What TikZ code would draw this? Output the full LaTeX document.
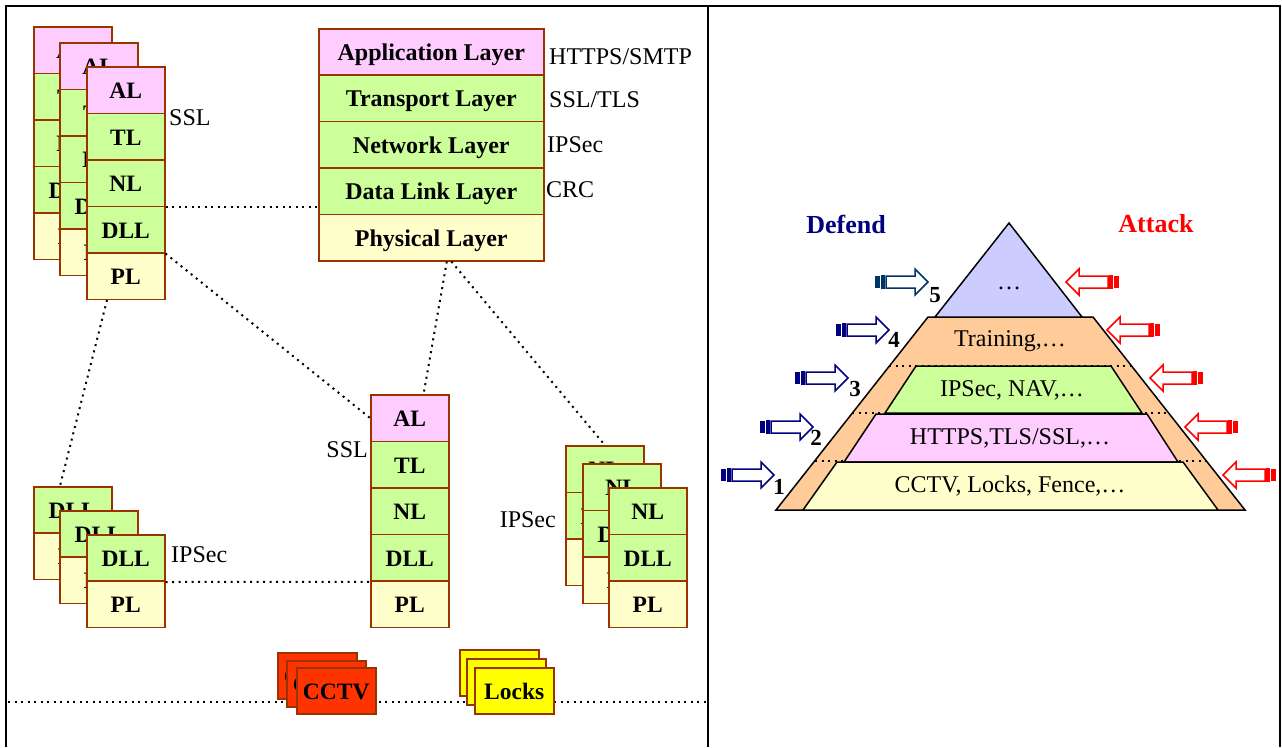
\documentclass[tikz,border=0pt]{standalone}
\usepackage{fontspec}
\setmainfont{Liberation Serif}
\usetikzlibrary{positioning}

\definecolor{layerpink}{HTML}{FFCCFF}
\definecolor{layergreen}{HTML}{CCFF99}
\definecolor{layeryellow}{HTML}{FFFFCC}
\definecolor{cellbrown}{HTML}{993300}
\definecolor{cctvred}{HTML}{FF3300}
\definecolor{lockyellow}{HTML}{FFFF00}
\definecolor{pyrblue}{HTML}{CCCCFF}
\definecolor{pyrorange}{HTML}{FFCC99}
\definecolor{defnavy}{HTML}{000080}
\definecolor{arrowteal}{HTML}{003366}
\definecolor{attackred}{HTML}{FF0000}

\begin{document}
\begin{tikzpicture}[x=1pt,y=-1pt, % one unit = one pixel, y pointing down
  cell/.style={draw=cellbrown, line width=1.5pt, minimum width=78pt, minimum height=46.5pt,
    inner sep=0pt, anchor=north west, text height=17pt, text depth=0pt,
    font=\bfseries\fontsize{23.5}{26}\selectfont},
  bigcell/.style={cell, minimum width=225pt, minimum height=46.4pt, font=\bfseries\fontsize{24}{28}\selectfont},
  lbl/.style={inner sep=0pt, font=\fontsize{24}{28}\selectfont},
  num/.style={inner sep=0pt, font=\bfseries\fontsize{23}{26}\selectfont},
  link/.style={line width=2pt, dash pattern=on 2pt off 4.5pt},
  band/.style={draw=black, line width=1.5pt},
  frame/.style={line width=2pt}]
\useasboundingbox (0,0) rectangle (1282,747);

% frames
\draw[frame] (6,747) -- (6,6) -- (1280,6) -- (1280,747);
\draw[frame] (708,6) -- (708,747);

% top left hosts, back to front
\foreach \s/\x/\y in {ta/33/26, tb/59/42, t/86/66}
  \foreach \n/\c [count=\i from 0] in {AL/layerpink, TL/layergreen, NL/layergreen, DLL/layergreen, PL/layeryellow}
    \node[cell, fill=\c] (\s\n) at (\x,\y+\i*46.5) {\n};

% full stack
\foreach \n/\t/\c [count=\i from 0] in {App/Application Layer/layerpink, Tra/Transport Layer/layergreen,
    Net/Network Layer/layergreen, Dat/Data Link Layer/layergreen, Phy/Physical Layer/layeryellow}
  \node[bigcell, fill=\c] (b\n) at (318,28+\i*46.4) {\t};

% middle host
\foreach \n/\c [count=\i from 0] in {AL/layerpink, TL/layergreen, NL/layergreen, DLL/layergreen, PL/layeryellow}
  \node[cell, fill=\c] (m\n) at (370,394+\i*46.6) {\n};

% bottom left bridges
\foreach \s/\x/\y in {la/33/486, lb/59/510, l/86/534}
  \foreach \n/\c [count=\i from 0] in {DLL/layergreen, PL/layeryellow}
    \node[cell, fill=\c] (\s\n) at (\x,\y+\i*46.3) {\n};

% right routers
\foreach \s/\x/\y in {ra/565/445, rb/582/463, r/608/487}
  \foreach \n/\c [count=\i from 0] in {NL/layergreen, DLL/layergreen, PL/layeryellow}
    \node[cell, fill=\c] (\s\n) at (\x,\y+\i*46.5) {\n};

% labels
\node[lbl, anchor=west] (sslT) at (169,118) {SSL};
\node[lbl, anchor=west] (proApp) at (549,57) {HTTPS/SMTP};
\node[lbl, anchor=west] (proTra) at (549,100) {SSL/TLS};
\node[lbl, anchor=west] (proNet) at (547,145) {IPSec};
\node[lbl, anchor=west] (proDat) at (546,190) {CRC};
\node[lbl, anchor=east] (sslM) at (368,450) {SSL};
\node[lbl, anchor=west] (ipsL) at (171,555) {IPSec};
\node[lbl, anchor=east] (ipsR) at (556,520) {IPSec};

% dotted links
\draw[link] (tNL.south east) -- (tNL.south east -| bDat.west);
\draw[link] (tDLL.south east) -- (mAL.west);
\draw[link] (bPhy.-57) -- (mAL.60);
\draw[link] (bPhy.-50) -- (raNL.north);
\draw[link] (tPL.232) -- (laDLL.118);
\draw[link] (lDLL.south east) -- (mDLL.south west);

% physical line, behind the boxes
\coordinate (gl) at (8,702);
\coordinate (gr) at (708,702);
\draw[link] (gl) -- (gr);
\foreach \s/\x/\y in {ca/277/652, cb/286/660, c/296/667}
  \node[cell, fill=cctvred, minimum width=79pt, minimum height=46pt] (\s) at (\x,\y) {CCTV};
\foreach \s/\x/\y in {ka/459/649, kb/466/658, k/474/667}
  \node[cell, fill=lockyellow, minimum width=79pt, minimum height=46pt] (\s) at (\x,\y) {Locks};

% pyramid
\filldraw[fill=pyrorange, band] (776,510) -- (928,317) -- (1093,317) -- (1245,510) -- cycle;
\filldraw[fill=pyrblue, band] (935,317) -- (1009,223) -- (1082,317) -- cycle;
\foreach \y/\a/\b in {366/889/1132, 413/852/1169, 461/815/1206}
  \draw[link, line width=1.5pt] (\a,\y) -- (\b,\y);
\filldraw[fill=layergreen, band] (885,413) -- (916,366) -- (1111,366) -- (1142,413) -- cycle;
\filldraw[fill=layerpink, band] (844,462) -- (876,414) -- (1147,414) -- (1178,462) -- cycle;
\filldraw[fill=layeryellow, band] (803,510) -- (837,462) -- (1183,462) -- (1218,510) -- cycle;

\node[lbl] (pyr5) at (1009,288) {…};
\node[lbl] (pyr4) at (1010,341) {Training,…};
\node[lbl] (pyr3) at (1012,390) {IPSec, NAV,…};
\node[lbl] (pyr2) at (1010,438) {HTTPS,TLS/SSL,…};
\node[lbl] (pyr1) at (1010,486) {CCTV, Locks, Fence,…};

\node[num, text=defnavy, font=\bfseries\fontsize{26}{30}\selectfont] (defend) at (846,224) {Defend};
\node[num, text=attackred, font=\bfseries\fontsize{26}{30}\selectfont] (attack) at (1156,224) {Attack};

% defend arrows
\foreach \x/\y/\c in {875/282/arrowteal, 836/330/defnavy, 795/378/defnavy, 760/427/defnavy, 721/475/defnavy} {
  \fill[\c] (\x,\y-6) rectangle +(5,12); % thick stripe
  \draw[\c, line width=1.2pt] (\x+7,\y-6) rectangle +(2,12); % thin stripe
  \draw[\c, line width=1.5pt, fill=white] (\x+11,\y-6) -- (\x+40,\y-6) -- (\x+40,\y-13) -- (\x+53,\y)
    -- (\x+40,\y+13) -- (\x+40,\y+6) -- (\x+11,\y+6) -- cycle;
}
% attack arrows
\foreach \x/\y in {1066/282, 1107/330, 1150/378, 1185/427, 1223/475} {
  \fill[attackred] (\x+48,\y-6) rectangle +(5,12);
  \draw[attackred, line width=1.2pt] (\x+44,\y-6) rectangle +(2,12);
  \draw[attackred, line width=1.5pt, fill=white] (\x+42,\y-6) -- (\x+13,\y-6) -- (\x+13,\y-13) -- (\x,\y)
    -- (\x+13,\y+13) -- (\x+13,\y+6) -- (\x+42,\y+6) -- cycle;
}

% level numbers
\node[num] (n5) at (935,295) {5};
\node[num] (n4) at (894,340) {4};
\node[num] (n3) at (855,389) {3};
\node[num] (n2) at (816,438) {2};
\node[num] (n1) at (779,487) {1};
\end{tikzpicture}
\end{document}
